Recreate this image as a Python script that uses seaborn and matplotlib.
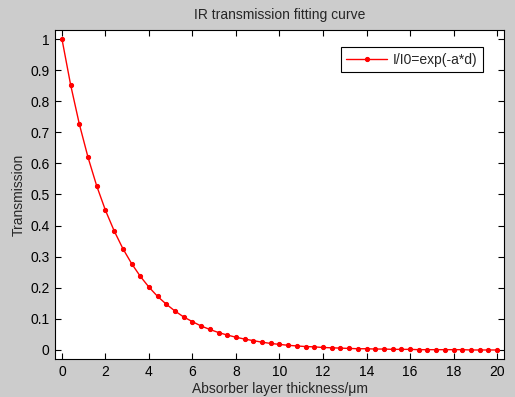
import matplotlib
matplotlib.use("Agg")
import matplotlib.pyplot as plt
import seaborn as sns
import pandas as pd

thickness = [0.0, 0.4, 0.8, 1.2, 1.6, 2.0, 2.4, 2.8, 3.2, 3.6, 4.0, 4.4, 4.8, 5.2, 5.6,
             6.0, 6.4, 6.8, 7.2, 7.6, 8.0, 8.4, 8.8, 9.2, 9.6, 10.0, 10.4, 10.8, 11.2,
             11.6, 12.0, 12.4, 12.8, 13.2, 13.6, 14.0, 14.4, 14.8, 15.2, 15.6, 16.0,
             16.4, 16.8, 17.2, 17.6, 18.0, 18.4, 18.8, 19.2, 19.6, 20.0]
transmission = [1.000, 0.852, 0.726, 0.619, 0.527, 0.449, 0.383, 0.326, 0.278, 0.237,
                0.202, 0.172, 0.147, 0.125, 0.106, 0.091, 0.077, 0.066, 0.056, 0.048,
                0.041, 0.035, 0.030, 0.025, 0.021, 0.018, 0.015, 0.013, 0.011, 0.010,
                0.008, 0.007, 0.006, 0.005, 0.004, 0.004, 0.003, 0.003, 0.002, 0.002,
                0.002, 0.001, 0.001, 0.001, 0.001, 0.001, 0.001, 0.000, 0.000, 0.000, 0.000]
x_ticks = [0, 2, 4, 6, 8, 10, 12, 14, 16, 18, 20]
y_ticks = [0, 0.1, 0.2, 0.3, 0.4, 0.5, 0.6, 0.7, 0.8, 0.9, 1]
y_tick_labels = ["0", "0.1", "0.2", "0.3", "0.4", "0.5", "0.6", "0.7", "0.8", "0.9", "1"]
series_label = "I/I0=exp(-a*d)"

sns.set_style("ticks")
plt.rcParams['font.family'] = ['Liberation Sans', 'DejaVu Sans']

df = pd.DataFrame({"d": thickness, "T": transmission})

fig = plt.figure(figsize=(5.15, 3.97), dpi=100, facecolor="#cccccc")
ax = fig.add_axes([55/515, 38/397, 449/515, 329/397])
ax.set_facecolor("white")

sns.lineplot(data=df, x="d", y="T", ax=ax, color="red", linewidth=1.0,
             marker=".", markersize=6, markeredgecolor="red", label=series_label)

ax.set_xlim(-0.32, 20.32)
ax.set_ylim(-0.029, 1.029)
ax.set_xticks(x_ticks)
ax.set_xticklabels([str(t) for t in x_ticks])
ax.set_yticks(y_ticks)
ax.set_yticklabels(y_tick_labels)
ax.tick_params(direction="in", top=True, right=True, length=4, width=0.8,
               labelsize=10, colors="black", pad=4)
for s in ax.spines.values():
    s.set_color("black")
    s.set_linewidth(0.8)
    s.set_visible(True)

ax.set_title("IR transmission fitting curve", fontsize=10, pad=8)
ax.set_xlabel("Absorber layer thickness/\u03bcm", fontsize=10, labelpad=2.5)
ax.set_ylabel("Transmission", fontsize=10, labelpad=3)

leg = ax.legend(loc="upper right", bbox_to_anchor=(0.953, 0.948), fontsize=10,
                frameon=True, fancybox=False, framealpha=1, edgecolor="black",
                handlelength=2.95, handletextpad=0.4, borderpad=0.4, borderaxespad=0)
leg.get_frame().set_linewidth(0.8)

fig.savefig("out.png", dpi=100, facecolor=fig.get_facecolor())
